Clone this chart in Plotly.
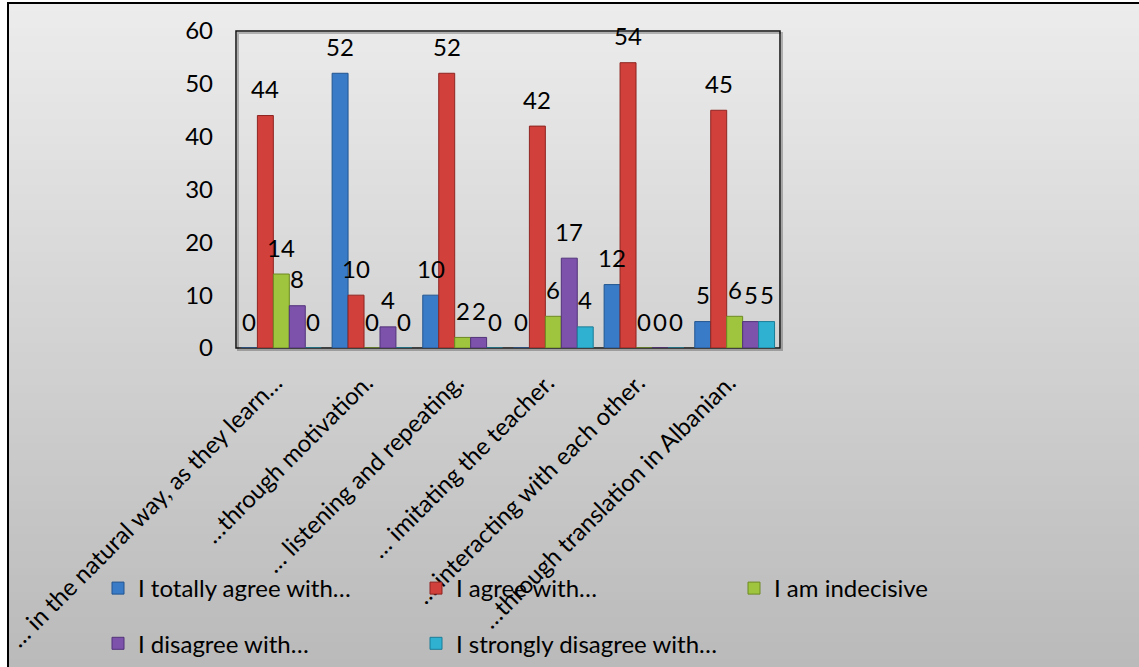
import plotly.graph_objects as go

# Survey answers per teaching approach
categories = [
    "… in the natural way, as they learn…",
    "…through motivation.",
    "… listening and repeating.",
    "… imitating the teacher.",
    "… interacting with each other.",
    "…through translation in Albanian.",
]
series_names = [
    "I totally agree with…",
    "I agree with…",
    "I am indecisive",
    "I disagree with…",
    "I strongly disagree with…",
]
totally_agree = [0, 52, 10, 0, 12, 5]
agree = [44, 10, 52, 42, 54, 45]
indecisive = [14, 0, 2, 6, 0, 6]
disagree = [8, 4, 2, 17, 0, 5]
strongly_disagree = [0, 0, 0, 4, 0, 5]
y_ticks = [0, 10, 20, 30, 40, 50, 60]

series_values = [totally_agree, agree, indecisive, disagree, strongly_disagree]
colors = ["#3a7bc8", "#d1403a", "#9fc43e", "#7c52ab", "#2fb1d2"]
edge_colors = ["#22558f", "#8e2522", "#6d8a22", "#52337a", "#1b7c96"]
legend_ids = ["legend", "legend2", "legend3", "legend", "legend2"]

W, H = 1139, 667
FONT = "Lato"
FS = 24
BARGAP = 0.12

# plot area in pixels
px0, px1, py0, py1 = 236, 780, 31, 348


def fx(px):
    return px / W


def fy(py):
    return 1 - py / H


fig = go.Figure()
n_series = len(series_values)
bar_w = (1 - BARGAP) / n_series
annotations = []
for i, (name, vals) in enumerate(zip(series_names, series_values)):
    fig.add_trace(go.Bar(
        x=list(range(len(categories))),
        y=vals,
        name=name,
        marker=dict(color=colors[i], line=dict(color=edge_colors[i], width=1)),
        legend=legend_ids[i],
        legendgroup=name,
        hoverinfo="skip",
    ))
    # value labels above each bar, centred on the bar's slot in the group
    offset = (i - (n_series - 1) / 2) * bar_w
    for k, v in enumerate(vals):
        annotations.append(dict(
            x=k + offset, y=v, xref="x", yref="y",
            text=str(v), showarrow=False,
            xanchor="center", yanchor="middle", yshift=27,
            font=dict(family=FONT, size=FS, color="black"),
        ))

# background gradient of the chart frame
shapes = []
top, bottom = 3, 667
bands = 80
c_top, c_bot = 236, 186
for b in range(bands):
    t = b / (bands - 1)
    c = round(c_top + (c_bot - c_top) * t)
    y_a = top + (bottom - top) * b / bands
    y_b = top + (bottom - top) * (b + 1) / bands + 1
    shapes.append(dict(type="rect", xref="paper", yref="paper",
                       x0=fx(8), x1=fx(W + 10), y0=fy(y_b), y1=fy(y_a),
                       line=dict(width=0), fillcolor=f"rgb({c},{c},{c})",
                       layer="below"))
# outer frame
shapes.append(dict(type="rect", xref="paper", yref="paper",
                   x0=fx(8), x1=fx(W + 10), y0=fy(H + 10), y1=fy(3),
                   line=dict(color="black", width=2), fillcolor="rgba(0,0,0,0)",
                   layer="below"))
# plot area shadow and border
shapes.append(dict(type="rect", xref="paper", yref="paper",
                   x0=fx(px0 + 2), x1=fx(px1 + 2), y0=fy(py1 + 2), y1=fy(py0 + 2),
                   line=dict(color="rgba(0,0,0,0.25)", width=2),
                   fillcolor="rgba(0,0,0,0)", layer="below"))
shapes.append(dict(type="rect", xref="paper", yref="paper",
                   x0=fx(px0), x1=fx(px1), y0=fy(py1), y1=fy(py0),
                   line=dict(color="#111111", width=1.5),
                   fillcolor="rgba(0,0,0,0)", layer="below"))

legend_common = dict(
    orientation="v", bgcolor="rgba(0,0,0,0)", borderwidth=0,
    font=dict(family=FONT, size=FS, color="black"),
    xanchor="left", yanchor="top", tracegroupgap=21,
    itemclick=False, itemdoubleclick=False,
)

fig.update_layout(
    width=W, height=H,
    margin=dict(l=0, r=0, t=0, b=0, autoexpand=False),
    paper_bgcolor="white",
    plot_bgcolor="rgba(0,0,0,0)",
    barmode="group",
    bargap=BARGAP,
    bargroupgap=0,
    font=dict(family=FONT, size=FS, color="black"),
    shapes=shapes,
    annotations=annotations,
    xaxis=dict(
        domain=[fx(px0), fx(px1)],
        range=[-0.5, len(categories) - 0.5],
        tickvals=list(range(len(categories))),
        ticktext=categories,
        tickangle=-45,
        automargin=False,
        showline=False, showgrid=False, zeroline=False,
        ticks="", ticklabelstandoff=15, ticklabelshift=-6,
        tickfont=dict(family=FONT, size=FS, color="black"),
        fixedrange=True,
    ),
    yaxis=dict(
        domain=[fy(py1), fy(py0)],
        range=[0, 60],
        tickvals=y_ticks,
        automargin=False,
        showline=False, showgrid=False, zeroline=False,
        ticks="", ticklabelstandoff=22,
        tickfont=dict(family=FONT, size=FS, color="black"),
        fixedrange=True,
    ),
    legend=dict(x=fx(98), y=fy(566), **legend_common),
    legend2=dict(x=fx(416), y=fy(566), **legend_common),
    legend3=dict(x=fx(734), y=fy(566), **legend_common),
    showlegend=True,
)

fig.write_html("out.html")
